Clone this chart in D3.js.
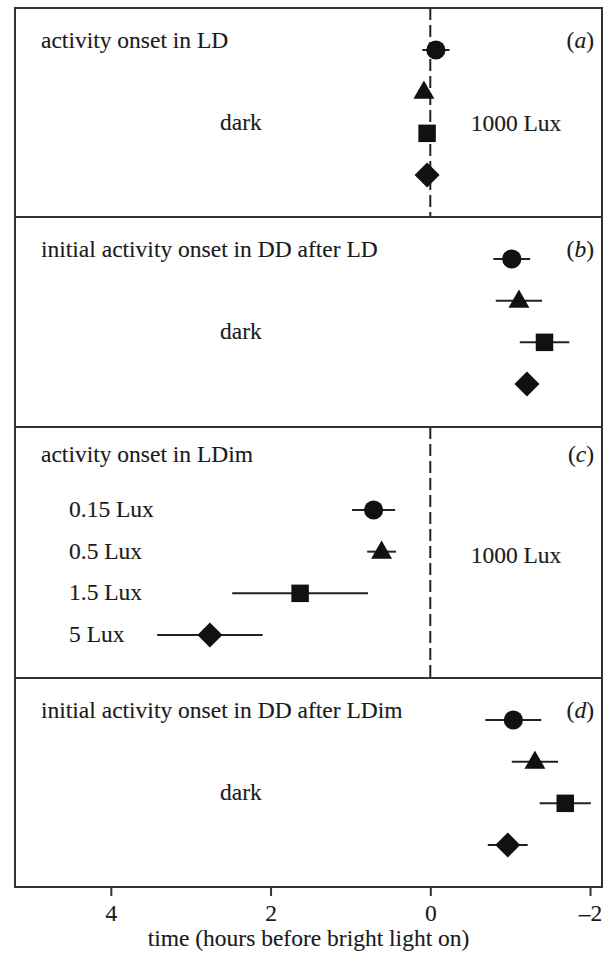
<!DOCTYPE html>
<html>
<head>
<meta charset="utf-8">
<script src="https://cdn.jsdelivr.net/npm/d3@7"></script>
<style>
  html, body { margin: 0; padding: 0; background: #fff; }
  svg text { font-family: "Liberation Serif", "Times New Roman", serif; fill: #1a1a1a; stroke: #1a1a1a; stroke-width: 0.12px; }
</style>
</head>
<body>
<svg id="chart" width="608" height="955"></svg>
<script>
// Onset times (hours before bright light on) with error half-widths,
// one value per marker row: circle, triangle, square, diamond.
const panelIds = ["a", "b", "c", "d"];
const panelTitles = [
  "activity onset in LD",
  "initial activity onset in DD after LD",
  "activity onset in LDim",
  "initial activity onset in DD after LDim"
];
const onsetLD = [-0.07, 0.08, 0.04, 0.04];
const errLD = [0.17, 0.04, 0.04, 0.04];
const onsetDDafterLD = [-1.02, -1.11, -1.43, -1.21];
const errDDafterLD = [0.23, 0.29, 0.31, 0.08];
const onsetLDim = [0.71, 0.61, 1.63, 2.76];
const errLDim = [0.27, 0.18, 0.85, 0.66];
const onsetDDafterLDim = [-1.04, -1.31, -1.69, -0.97];
const errDDafterLDim = [0.35, 0.29, 0.32, 0.25];
const dimLevels = ["0.15 Lux", "0.5 Lux", "1.5 Lux", "5 Lux"];
const markerShapes = ["circle", "triangle", "square", "diamond"];
const xTicks = [4, 2, 0, -2];
const xDomain = [5.2, -2.15];
const xTitle = "time (hours before bright light on)";

const panelValues = [onsetLD, onsetDDafterLD, onsetLDim, onsetDDafterLDim];
const panelErrors = [errLD, errDDafterLD, errLDim, errDDafterLDim];

// layout
const left = 15, right = 602;
const panelTops = [8, 217, 427, 678];
const panelBottoms = [217, 427, 678, 887];
const font = 23.5;

const svg = d3.select("#chart");
const x = d3.scaleLinear().domain(xDomain).range([left, right]);

const symbolFor = {
  circle: d3.symbol().type(d3.symbolCircle).size(Math.PI * 9.6 * 9.6),
  triangle: d3.symbol().type(d3.symbolTriangle).size(190),
  square: d3.symbol().type(d3.symbolSquare).size(17.5 * 17.5),
  diamond: d3.symbol().type(d3.symbolSquare).size(17.7 * 17.7)
};

panelIds.forEach((id, p) => {
  const top = panelTops[p], bottom = panelBottoms[p];
  const g = svg.append("g").attr("class", "panel panel-" + id);

  // row positions inside the panel
  const rowRange = id === "c" ? [83, 208] : [42, 167];
  const y = d3.scalePoint().domain(d3.range(4)).range(rowRange.map(v => top + v));

  // bright-light boundary at time 0 in the light/dark panels
  if (id === "a" || id === "c") {
    g.append("line")
      .attr("x1", x(0)).attr("x2", x(0))
      .attr("y1", top).attr("y2", bottom)
      .attr("stroke", "#222").attr("stroke-width", 2)
      .attr("stroke-dasharray", "12,5");
  }

  // title and panel letter
  const titleY = top + (id === "c" ? 35 : 40);
  g.append("text").attr("x", 41).attr("y", titleY)
    .attr("font-size", font).text(panelTitles[p]);
  const lab = g.append("text").attr("x", 594).attr("y", titleY)
    .attr("font-size", font).attr("text-anchor", "end");
  lab.append("tspan").text("(");
  lab.append("tspan").attr("font-style", "italic").text(id);
  lab.append("tspan").text(")");

  // condition labels
  if (id === "c") {
    g.selectAll("text.level").data(dimLevels).join("text")
      .attr("class", "level")
      .attr("x", 69).attr("y", (d, i) => y(i) + 7)
      .attr("font-size", font).text(d => d);
    g.append("text").attr("x", 516).attr("y", top + 136)
      .attr("text-anchor", "middle").attr("font-size", font).text("1000 Lux");
  } else {
    g.append("text").attr("x", 241).attr("y", top + 122)
      .attr("text-anchor", "middle").attr("font-size", font).text("dark");
    if (id === "a") {
      g.append("text").attr("x", 516).attr("y", top + 123)
        .attr("text-anchor", "middle").attr("font-size", font).text("1000 Lux");
    }
  }

  const rows = panelValues[p].map((v, i) => ({ v, e: panelErrors[p][i], i, shape: markerShapes[i] }));

  // error bars
  g.selectAll("line.err").data(rows).join("line")
    .attr("class", "err")
    .attr("x1", d => x(d.v + d.e)).attr("x2", d => x(d.v - d.e))
    .attr("y1", d => y(d.i)).attr("y2", d => y(d.i))
    .attr("stroke", "#222").attr("stroke-width", 2);

  // markers
  g.selectAll("path.mark").data(rows).join("path")
    .attr("class", "mark")
    .attr("d", d => symbolFor[d.shape]())
    .attr("transform", d => `translate(${x(d.v)},${y(d.i) + (d.shape === "triangle" ? 1 : 0)})` + (d.shape === "diamond" ? " rotate(45)" : ""))
    .attr("fill", "#111");

  // panel frame
  g.append("rect")
    .attr("x", left).attr("y", top)
    .attr("width", right - left).attr("height", bottom - top)
    .attr("fill", "none").attr("stroke", "#333").attr("stroke-width", 2);
});

// x axis along the bottom panel
const axis = d3.axisBottom(x).tickValues(xTicks).tickSize(9).tickPadding(8)
  .tickFormat(d => d < 0 ? "\u2013" + Math.abs(d) : String(d));
const ax = svg.append("g").attr("transform", `translate(0,${panelBottoms[3]})`).call(axis);
ax.select(".domain").remove();
ax.selectAll(".tick line").attr("stroke", "#333").attr("stroke-width", 2);
ax.selectAll(".tick text")
  .attr("font-size", font)
  .attr("font-family", "Liberation Serif, Times New Roman, serif")
  .attr("fill", "#1a1a1a");

svg.append("text")
  .attr("x", (left + right) / 2).attr("y", 946)
  .attr("text-anchor", "middle").attr("font-size", font)
  .text(xTitle);
</script>
</body>
</html>
